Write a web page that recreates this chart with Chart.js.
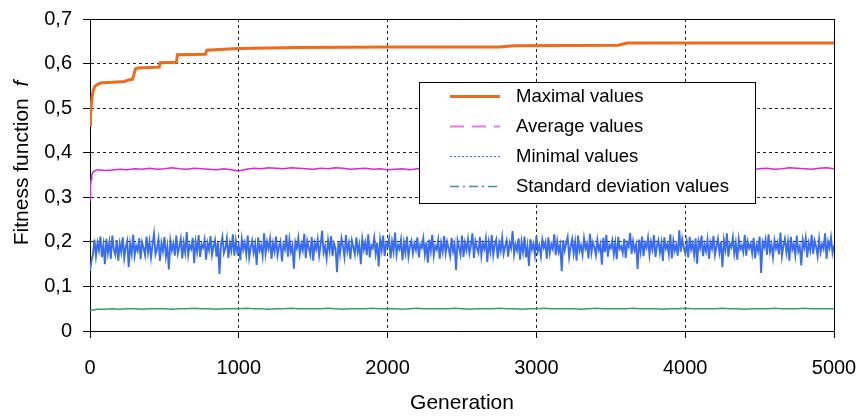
<!DOCTYPE html>
<html>
<head>
<meta charset="utf-8">
<script src="https://cdn.jsdelivr.net/npm/chart.js@4.4.0/dist/chart.umd.min.js"></script>
<style>
  html, body { margin: 0; padding: 0; background: #fff; }
  #wrap { width: 861px; height: 417px; position: relative; }
</style>
</head>
<body>
<div id="wrap"><canvas id="chart"></canvas></div>
<script>
// generations / values
const maxGenerations = [0, 3, 8, 14, 22, 32, 45, 60, 80, 150, 230, 260, 285, 295, 305, 320, 400, 465, 472, 580,
  588, 775, 785, 900, 1000, 1400, 2000, 2750, 2850, 3550, 3610, 5000];
const maxValues = [0.463, 0.485, 0.505, 0.525, 0.540, 0.548, 0.552, 0.555, 0.557, 0.558, 0.560, 0.563, 0.565, 0.575, 0.588, 0.590, 0.591, 0.592, 0.602, 0.603,
  0.620, 0.621, 0.630, 0.632, 0.634, 0.636, 0.637, 0.637, 0.640, 0.641, 0.646, 0.646];

const avgHeadGenerations = [0, 3, 7, 12, 20, 30];
const avgHeadValues = [0.294, 0.322, 0.340, 0.350, 0.356, 0.359];
const avgStep = 50; // avgValues start at generation 50
const avgValues = [
  0.362,0.360,0.361,0.363,0.362,0.364,0.363,0.365,0.363,0.364,0.366,0.364,0.363,0.365,0.364,0.363,0.362,0.364,0.362,0.359,
  0.363,0.365,0.364,0.366,0.365,0.364,0.366,0.365,0.364,0.363,0.365,0.364,0.366,0.365,0.363,0.364,0.365,0.363,0.364,0.362,
  0.363,0.364,0.362,0.364,0.365,0.363,0.364,0.366,0.364,0.365,0.363,0.364,0.362,0.363,0.365,0.364,0.366,0.364,0.363,0.364,
  0.365,0.363,0.364,0.366,0.365,0.363,0.364,0.365,0.363,0.364,0.366,0.365,0.364,0.362,0.364,0.365,0.363,0.364,0.365,0.364,
  0.363,0.365,0.364,0.366,0.364,0.363,0.365,0.364,0.362,0.364,0.365,0.363,0.364,0.366,0.365,0.364,0.363,0.365,0.366,0.364
];

const minStep = 10; // minValues start at generation 0
const minValues = [
  0.135,0.158,0.172,0.205,0.168,0.198,0.181,0.212,0.166,0.193,0.150,0.207,0.175,0.199,0.162,0.214,0.183,0.171,0.204,0.158,
  0.196,0.177,0.210,0.164,0.188,0.202,0.143,0.195,0.173,0.216,0.169,0.191,0.180,0.208,0.161,0.199,0.186,0.170,0.212,0.176,
  0.201,0.165,0.193,0.218,0.172,0.184,0.206,0.157,0.197,0.179,0.211,0.167,0.190,0.138,0.203,0.181,0.196,0.169,0.214,0.174,
  0.189,0.207,0.163,0.198,0.176,0.222,0.170,0.192,0.184,0.209,0.152,0.200,0.178,0.215,0.166,0.194,0.187,0.205,0.160,0.197,
  0.182,0.213,0.171,0.190,0.204,0.167,0.199,0.128,0.193,0.211,0.175,0.186,0.208,0.164,0.196,0.180,0.217,0.169,0.202,0.177,
  0.191,0.159,0.206,0.183,0.198,0.172,0.214,0.165,0.188,0.203,0.176,0.195,0.148,0.210,0.181,0.192,0.168,0.219,0.174,0.200,
  0.185,0.207,0.162,0.196,0.179,0.212,0.170,0.189,0.201,0.156,0.194,0.183,0.216,0.167,0.205,0.178,0.192,0.140,0.199,0.186,
  0.209,0.173,0.195,0.181,0.218,0.164,0.202,0.187,0.171,0.211,0.158,0.197,0.184,0.206,0.169,0.193,0.225,0.176,0.190,0.163,
  0.204,0.180,0.213,0.168,0.196,0.185,0.132,0.201,0.174,0.208,0.190,0.166,0.215,0.179,0.197,0.161,0.203,0.188,0.172,0.210,
  0.177,0.194,0.150,0.206,0.183,0.199,0.170,0.217,0.165,0.192,0.186,0.209,0.173,0.198,0.145,0.204,0.181,0.214,0.168,0.195,
  0.189,0.207,0.163,0.200,0.178,0.221,0.171,0.193,0.184,0.205,0.159,0.198,0.176,0.212,0.167,0.190,0.202,0.174,0.196,0.182,
  0.210,0.165,0.194,0.187,0.208,0.172,0.199,0.153,0.205,0.180,0.216,0.169,0.191,0.183,0.204,0.162,0.197,0.178,0.213,0.175,
  0.200,0.185,0.168,0.209,0.179,0.195,0.137,0.203,0.188,0.171,0.214,0.166,0.198,0.182,0.206,0.174,0.192,0.219,0.164,0.201,
  0.187,0.176,0.211,0.169,0.196,0.184,0.207,0.155,0.199,0.178,0.215,0.170,0.193,0.205,0.163,0.197,0.180,0.210,0.173,0.190,
  0.203,0.167,0.198,0.186,0.224,0.172,0.194,0.181,0.208,0.160,0.200,0.177,0.212,0.165,0.191,0.146,0.206,0.183,0.196,0.171,
  0.213,0.179,0.192,0.168,0.205,0.187,0.199,0.162,0.210,0.175,0.195,0.184,0.217,0.170,0.201,0.178,0.193,0.134,0.204,0.181,
  0.197,0.211,0.166,0.189,0.206,0.174,0.200,0.158,0.214,0.180,0.192,0.171,0.208,0.185,0.196,0.163,0.218,0.176,0.199,0.188,
  0.170,0.204,0.182,0.195,0.149,0.209,0.177,0.216,0.167,0.193,0.186,0.203,0.172,0.198,0.161,0.211,0.184,0.190,0.175,0.207,
  0.164,0.197,0.189,0.220,0.173,0.201,0.181,0.194,0.139,0.205,0.178,0.212,0.168,0.196,0.187,0.209,0.171,0.200,0.183,0.215,
  0.166,0.192,0.204,0.176,0.198,0.157,0.210,0.185,0.195,0.172,0.217,0.163,0.202,0.180,0.193,0.169,0.226,0.178,0.206,0.188,
  0.174,0.199,0.165,0.211,0.183,0.196,0.170,0.208,0.151,0.201,0.187,0.214,0.168,0.194,0.179,0.205,0.162,0.198,0.185,0.213,
  0.171,0.190,0.207,0.176,0.200,0.143,0.203,0.182,0.219,0.167,0.195,0.188,0.210,0.173,0.197,0.160,0.206,0.184,0.192,0.177,
  0.215,0.169,0.201,0.186,0.196,0.174,0.209,0.163,0.193,0.180,0.212,0.130,0.199,0.188,0.205,0.171,0.217,0.178,0.194,0.166,
  0.203,0.185,0.198,0.172,0.221,0.168,0.192,0.207,0.176,0.200,0.158,0.211,0.183,0.195,0.170,0.214,0.179,0.190,0.147,0.204,
  0.187,0.209,0.165,0.197,0.181,0.216,0.173,0.202,0.189,0.168,0.206,0.177,0.195,0.184,0.219,0.162,0.200,0.186,0.210,0.175,
  0.192
];

const stdStep = 50; // stdValues start at generation 0
const stdValues = [
  0.046,0.049,0.049,0.050,0.049,0.050,0.050,0.049,0.050,0.050,
  0.050,0.049,0.050,0.050,0.051,0.050,0.050,0.049,0.050,0.050,
  0.050,0.051,0.050,0.050,0.049,0.050,0.050,0.051,0.050,0.050,
  0.050,0.050,0.051,0.050,0.049,0.050,0.050,0.050,0.051,0.050,
  0.050,0.050,0.049,0.050,0.051,0.050,0.050,0.050,0.050,0.051,
  0.050,0.049,0.050,0.050,0.050,0.051,0.050,0.050,0.049,0.050,
  0.050,0.051,0.050,0.050,0.050,0.050,0.049,0.050,0.051,0.050,
  0.050,0.050,0.050,0.051,0.050,0.050,0.050,0.049,0.050,0.050,
  0.051,0.050,0.050,0.050,0.050,0.051,0.050,0.050,0.049,0.050,
  0.050,0.050,0.051,0.050,0.050,0.050,0.051,0.050,0.050,0.050,
  0.050
];

const seriesLabels = ['Maximal values', 'Average values', 'Minimal values', 'Standard deviation values'];
const xTitle = 'Generation';
const yTitle = 'Fitness function';

const FONT = '"Liberation Sans", Arial, sans-serif';

const maxData = maxGenerations.map((g, i) => ({ x: g, y: maxValues[i] }));
const avgData = avgHeadGenerations.map((g, i) => ({ x: g, y: avgHeadValues[i] }))
  .concat(avgValues.map((v, i) => ({ x: (i + 1) * avgStep, y: v })));
const minData = minValues.map((v, i) => ({ x: i * minStep, y: v }));
const stdData = stdValues.map((v, i) => ({ x: i * stdStep, y: v }));

// legend + frame + axis titles
const decorPlugin = {
  id: 'decor',
  afterDraw(chart) {
    const ctx = chart.ctx;
    const area = chart.chartArea;
    ctx.save();

    // solid frame on top and right
    ctx.strokeStyle = '#000';
    ctx.lineWidth = 1;
    ctx.beginPath();
    ctx.moveTo(Math.round(area.left) + 0.5, Math.round(area.top) + 0.5);
    ctx.lineTo(Math.round(area.right) + 0.5, Math.round(area.top) + 0.5);
    ctx.lineTo(Math.round(area.right) + 0.5, Math.round(area.bottom) + 0.5);
    ctx.stroke();

    // legend box
    const lx = 419.5, ly = 82.5, lw = 336, lh = 121;
    ctx.fillStyle = '#fff';
    ctx.fillRect(lx, ly, lw, lh);
    ctx.strokeRect(lx, ly, lw, lh);
    ctx.font = '18.5px ' + FONT;
    ctx.textBaseline = 'middle';
    ctx.textAlign = 'left';
    chart.data.datasets.forEach((ds, i) => {
      const y = 96 + i * 30;
      ctx.save();
      ctx.strokeStyle = ds.legendColor || ds.borderColor;
      ctx.lineWidth = ds.legendWidth;
      ctx.setLineDash(ds.legendDash);
      ctx.beginPath();
      ctx.moveTo(450, Math.round(y) + 0.5);
      ctx.lineTo(500, Math.round(y) + 0.5);
      ctx.stroke();
      ctx.restore();
      ctx.fillStyle = '#000';
      ctx.fillText(ds.label, 516, y + 1);
    });

    // axis titles
    ctx.fillStyle = '#000';
    ctx.font = '21px ' + FONT;
    ctx.textAlign = 'center';
    ctx.fillText(xTitle, (area.left + area.right) / 2, 403);

    ctx.translate(22, 163);
    ctx.rotate(-Math.PI / 2);
    ctx.font = '21px ' + FONT;
    const w1 = ctx.measureText(yTitle + '  ').width;
    ctx.font = 'italic 21px ' + FONT;
    const w2 = ctx.measureText('f').width;
    const start = -(w1 + w2) / 2;
    ctx.textAlign = 'left';
    ctx.font = '21px ' + FONT;
    ctx.fillText(yTitle, start, 0);
    ctx.font = 'italic 21px ' + FONT;
    ctx.fillText('f', start + w1, 0);
    ctx.restore();
  }
};

new Chart(document.getElementById('chart'), {
  type: 'line',
  data: {
    datasets: [
      { label: seriesLabels[0], data: maxData, borderColor: '#F06A1C', borderWidth: 3,
        legendWidth: 3, legendDash: [] },
      { label: seriesLabels[1], data: avgData, borderColor: '#DD22DD', borderWidth: 1.5,
        legendColor: '#E37BE3', legendWidth: 2, legendDash: [14, 8] },
      { label: seriesLabels[2], data: minData, borderColor: '#3A6CF0', borderWidth: 1.9,
        legendWidth: 1, legendDash: [2, 2] },
      { label: seriesLabels[3], data: stdData, borderColor: '#3A9E70', borderWidth: 1.5,
        legendWidth: 1.5, legendDash: [9, 4, 2, 4] }
    ]
  },
  options: {
    responsive: true,
    maintainAspectRatio: false,
    animation: false,
    elements: { point: { radius: 0 }, line: { tension: 0 } },
    layout: { padding: { top: 19, right: 27, left: 0, bottom: 0 } },
    plugins: { legend: { display: false }, tooltip: { enabled: false } },
    scales: {
      x: {
        type: 'linear',
        min: 0,
        max: 5000,
        afterFit: (s) => { s.height = 86; s.paddingLeft = 0; s.paddingRight = 0; },
        ticks: {
          stepSize: 1000,
          color: '#000',
          font: { size: 20, family: FONT },
          padding: 18,
          maxRotation: 0,
          callback: (v) => String(v)
        },
        grid: { color: '#222', tickColor: '#000', tickLength: 7, tickBorderDash: [] },
        border: { color: '#000', width: 1, dash: [3, 3] }
      },
      y: {
        min: 0,
        max: 0.7,
        afterFit: (s) => { s.width = 90; s.paddingTop = 0; s.paddingBottom = 0; },
        ticks: {
          stepSize: 0.1,
          color: '#000',
          font: { size: 20, family: FONT },
          padding: 11,
          callback: (v) => v === 0 ? '0' : v.toFixed(1).replace('.', ',')
        },
        grid: { color: '#222', tickColor: '#000', tickLength: 7, tickBorderDash: [] },
        border: { color: '#000', width: 1, dash: [3, 3] }
      }
    }
  },
  plugins: [decorPlugin]
});
</script>
</body>
</html>
